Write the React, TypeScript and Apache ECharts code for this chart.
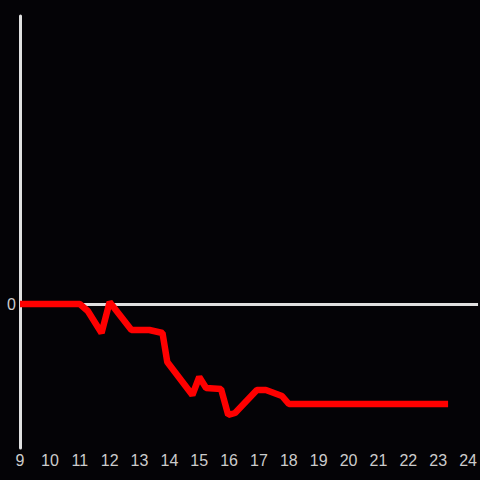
import React, { useEffect, useRef } from "react";
import * as echarts from "echarts";

const xValues = [9, 11, 11.27, 11.73, 12, 12.73, 13.33, 13.77, 13.93, 14.77, 15, 15.23, 15.73, 15.97, 16.2, 16.93, 17.23, 17.77, 18, 23.33];
const yValues = [0, 0, -7, -29, 2, -26, -26, -29, -58, -91, -73, -84, -85, -111, -109, -86, -86, -92, -100, -100];
const xTicks = [9, 10, 11, 12, 13, 14, 15, 16, 17, 18, 19, 20, 21, 22, 23, 24];

export default function App() {
  const ref = useRef<HTMLDivElement>(null);
  useEffect(() => {
    if (!ref.current) return;
    const chart = echarts.init(ref.current, null, { renderer: "svg" });
    chart.setOption({
      animation: false,
      backgroundColor: "#040306",
      textStyle: { fontFamily: "Liberation Sans" },
      grid: { left: 20, right: 0, top: 16, bottom: 32 },
      xAxis: {
        type: "value",
        min: 9,
        max: 24.333,
        interval: 1,
        axisLine: { show: false },
        axisTick: { show: false },
        splitLine: { show: false },
        axisLabel: {
          color: "#cccccc",
          fontFamily: "Liberation Sans",
          fontSize: 16,
          margin: 4,
          showMaxLabel: false,
          formatter: (v: number) => (xTicks.includes(v) ? String(v) : ""),
        },
      },
      yAxis: {
        type: "value",
        min: -144,
        max: 288,
        interval: 144,
        axisLine: { show: true, onZero: false, lineStyle: { color: "#e0e0e0", width: 3 } },
        axisTick: { show: false },
        splitLine: { show: false },
        axisLabel: {
          color: "#cccccc",
          fontFamily: "Liberation Sans",
          fontSize: 16,
          margin: 4,
          formatter: (v: number) => (v === 0 ? "0" : ""),
        },
      },
      series: [
        {
          type: "line",
          data: xValues.map((x, i) => [x, yValues[i]]),
          showSymbol: false,
          symbol: "none",
          lineStyle: { color: "#ff0000", width: 6.5 },
          z: 3,
          markLine: {
            silent: true,
            symbol: "none",
            label: { show: false },
            lineStyle: { color: "#e0e0e0", width: 3, type: "solid" },
            data: [{ yAxis: 0 }],
            z: 1,
          },
        },
      ],
    });
    return () => chart.dispose();
  }, []);
  return <div ref={ref} style={{ width: 480, height: 480, position: "absolute", left: 0, top: 0 }} />;
}
